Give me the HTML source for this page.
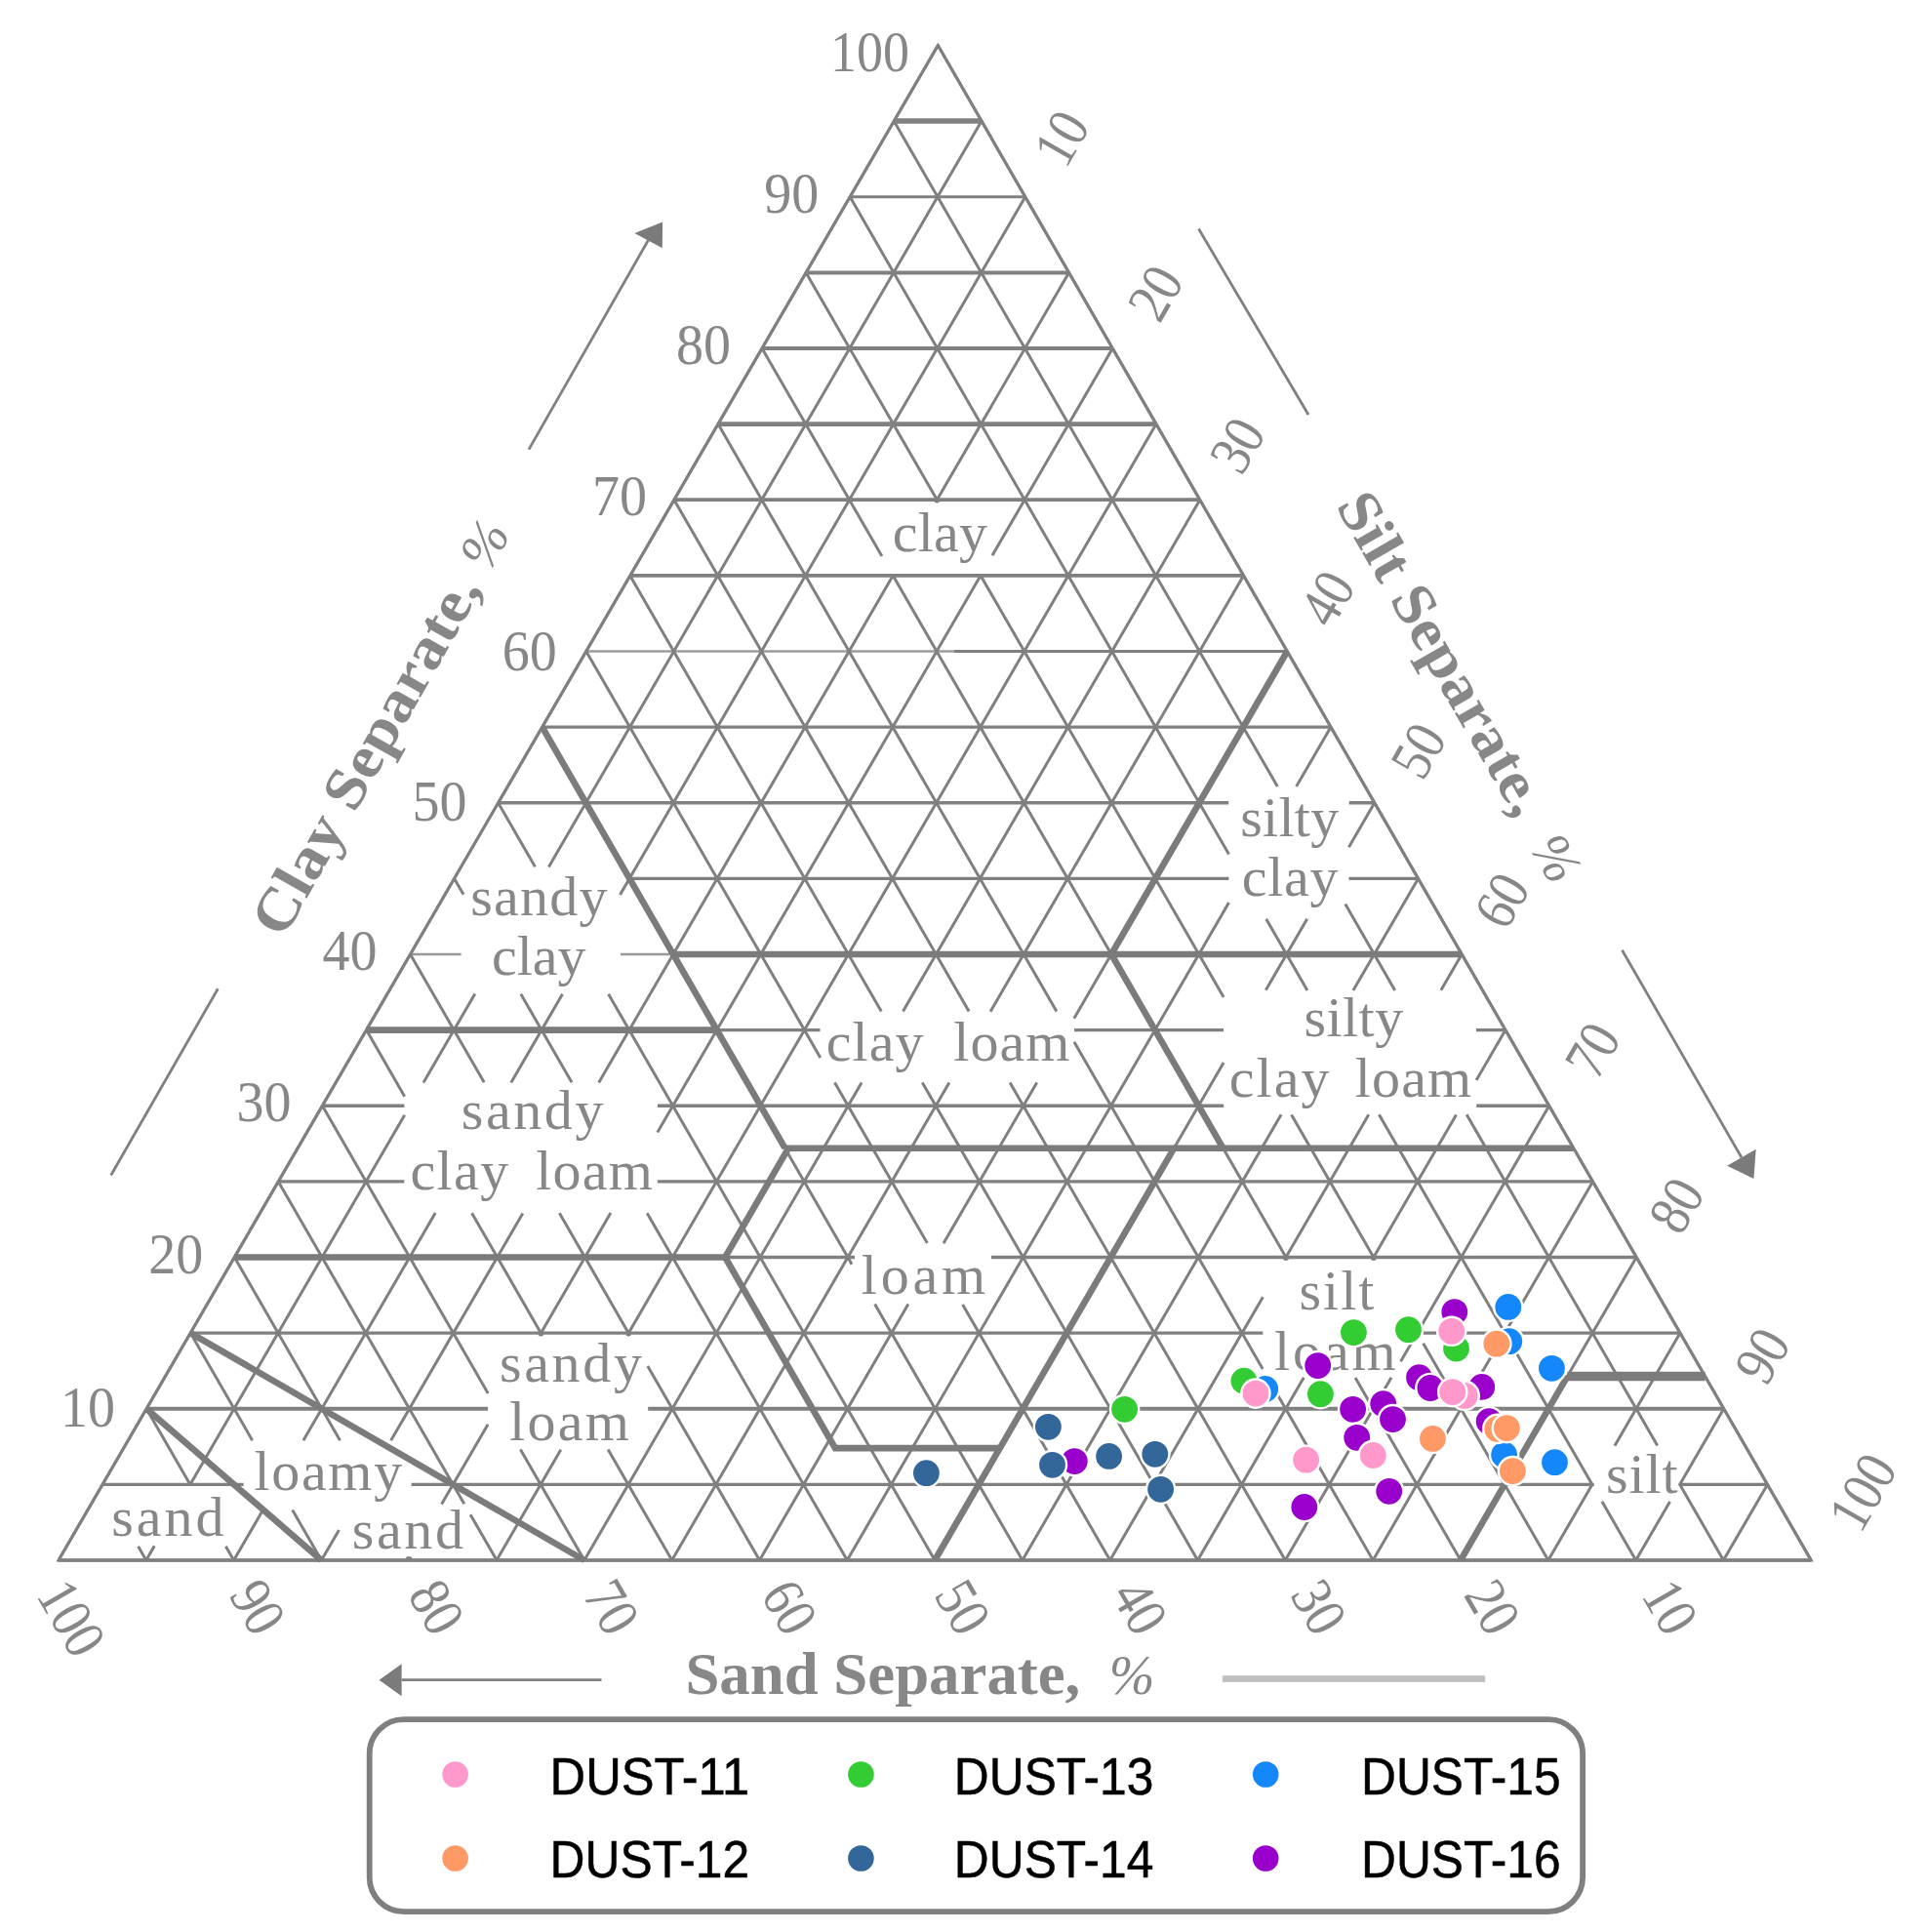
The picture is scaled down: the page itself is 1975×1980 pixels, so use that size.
<!DOCTYPE html>
<html><head><meta charset="utf-8"><title>Soil texture triangle</title>
<style>
html,body{margin:0;padding:0;background:#fff;}
body{width:1975px;height:1980px;overflow:hidden;font-family:"Liberation Sans",sans-serif;}
svg{display:block;}
</style></head><body>
<svg width="1975" height="1980" viewBox="0 0 1975 1980">
<rect width="1975" height="1980" fill="#fff"/>
<g>
<path d="M150.1 1443.8L500.1 1443.8" stroke="#808080" stroke-width="4.0" fill="none"/>
<path d="M664.2 1443.8L1766.7 1443.8" stroke="#808080" stroke-width="4.0" fill="none"/>
<path d="M420.5 978.0L472.6 978.0" stroke="#999999" stroke-width="2.3" fill="none"/>
<path d="M635.9 978.0L690.0 978.0" stroke="#999999" stroke-width="2.3" fill="none"/>
<path d="M690.0 978.0L1498.2 978.0" stroke="#808080" stroke-width="3.3" fill="none"/>
<path d="M600.8 667.5L978.0 667.5" stroke="#9c9c9c" stroke-width="2.3" fill="none"/>
<path d="M978.0 667.5L1319.3 667.5" stroke="#808080" stroke-width="2.8" fill="none"/>
<path d="M645.8 589.9L1274.5 589.9" stroke="#808080" stroke-width="3.7" fill="none"/>
<path d="M690.9 512.2L1229.8 512.2" stroke="#808080" stroke-width="3.7" fill="none"/>
<path d="M736.0 434.6L1185.0 434.6" stroke="#808080" stroke-width="4.6" fill="none"/>
<path d="M781.0 357.0L1140.3 357.0" stroke="#808080" stroke-width="4.0" fill="none"/>
<path d="M826.1 279.4L1095.5 279.4" stroke="#808080" stroke-width="4.0" fill="none"/>
<path d="M871.2 201.8L1050.8 201.8" stroke="#808080" stroke-width="3.0" fill="none"/>
<path d="M916.2 124.1L1006.0 124.1" stroke="#808080" stroke-width="5.5" fill="none"/>
<path d="M60.0 1599.0L1856.2 1599.0M105.1 1521.4L249.6 1521.4M421.6 1521.4L1632.4 1521.4M1721.4 1521.4L1811.5 1521.4M195.2 1366.1L1294.4 1366.1M1458.4 1366.1L1722.0 1366.1M240.3 1288.5L876.0 1288.5M1016.0 1288.5L1677.2 1288.5M285.3 1210.9L414.3 1210.9M673.9 1210.9L1632.5 1210.9M330.4 1133.2L414.4 1133.2M674.0 1133.2L1254.1 1133.2M1513.2 1133.2L1587.7 1133.2M375.5 1055.6L840.5 1055.6M1101.0 1055.6L1254.0 1055.6M1513.0 1055.6L1543.0 1055.6M645.2 900.4L1259.4 900.4M1382.5 900.4L1453.5 900.4M510.6 822.8L1259.2 822.8M1382.7 822.8L1408.8 822.8M555.7 745.1L1364.0 745.1" fill="none" stroke="#808080" stroke-width="3.4"/>
<path d="M961.3 46.5L1856.2 1599.0M961.3 46.5L60.0 1599.0M916.2 124.1L1309.3 806.1M1378.8 926.6L1429.7 1014.9M1503.2 1142.3L1698.7 1481.6M1721.2 1520.6L1766.4 1599.0M1006.0 124.1L562.4 888.4M486.8 1018.6L434.0 1109.4M414.7 1142.7L194.3 1522.4M158.3 1584.3L149.8 1599.0M871.2 201.8L1259.5 875.5M1297.7 941.8L1339.9 1015.0M1413.4 1142.3L1632.9 1523.2M1641.9 1538.8L1676.6 1599.0M1050.8 201.8L635.5 917.0M576.5 1018.7L523.8 1109.5M446.2 1243.1L310.9 1476.2M269.5 1547.5L239.6 1599.0M826.1 279.4L962.0 515.1M1004.4 588.7L1254.1 1021.9M1323.6 1142.4L1409.5 1291.4M1458.7 1376.8L1586.8 1599.0M1095.5 279.4L958.7 515.1M916.0 588.6L613.7 1109.4M535.8 1243.5L400.7 1476.2M347.5 1567.9L329.4 1599.0M781.0 357.0L903.9 570.1M914.6 588.8L1319.7 1291.4M1389.1 1411.9L1497.0 1599.0M1140.3 357.0L1017.0 569.3M1005.7 588.8L673.8 1160.5M625.9 1243.1L552.8 1368.9M500.1 1459.8L452.6 1541.5M421.2 1595.5L419.2 1599.0M736.0 434.6L1082.9 1036.5M1100.9 1067.7L1294.2 1403.1M1299.2 1411.8L1407.2 1599.0M1185.0 434.6L642.6 1368.9M574.8 1485.7L509.0 1599.0M690.9 512.2L993.1 1036.6M1035.1 1109.4L1317.3 1599.0M1229.8 512.2L925.5 1036.4M883.1 1109.5L598.9 1599.0M645.8 589.9L903.3 1036.6M945.3 1109.4L1227.5 1599.0M1274.5 589.9L1015.1 1036.7M972.9 1109.4L688.7 1599.0M600.8 667.5L840.8 1083.9M855.5 1109.4L950.4 1274.1M986.6 1336.9L1137.7 1599.0M1319.3 667.5L1100.8 1043.7M1062.7 1109.5L967.0 1274.2M930.9 1336.5L778.5 1599.0M555.7 745.1L873.1 1295.7M896.6 1336.5L1047.9 1599.0M1364.0 745.1L1328.6 806.1M1259.5 925.1L868.3 1599.0M510.6 822.8L548.4 888.2M623.6 1018.7L958.1 1599.0M1408.8 822.8L1382.4 868.2M1339.7 941.7L1297.3 1014.8M1254.1 1089.1L958.1 1599.0M465.6 900.4L475.1 916.8M533.8 1018.7L586.0 1109.3M663.2 1243.2L868.3 1599.0M1453.5 900.4L1386.9 1015.0M1313.1 1142.2L1047.9 1599.0M420.5 978.0L496.2 1109.3M573.4 1243.2L645.8 1368.9M663.8 1400.1L778.5 1599.0M1498.2 978.0L1476.9 1014.8M1402.8 1142.3L1316.2 1291.5M1294.4 1329.2L1137.7 1599.0M375.5 1055.6L414.7 1123.7M483.6 1243.2L556.0 1368.9M623.2 1485.5L688.7 1599.0M1543.0 1055.6L1513.1 1107.1M1492.5 1142.6L1406.1 1291.4M1336.3 1411.7L1227.5 1599.0M330.4 1133.2L500.2 1427.9M533.4 1485.5L598.9 1599.0M1587.7 1133.2L1435.6 1395.3M1426.0 1411.7L1317.3 1599.0M285.3 1210.9L475.8 1541.3M482.1 1552.2L509.1 1599.0M1632.5 1210.9L1407.2 1599.0M240.3 1288.5L348.5 1476.3M417.2 1595.5L419.2 1599.0M1677.2 1288.5L1497.0 1599.0M195.2 1366.1L258.7 1476.3M299.7 1547.4L329.4 1599.0M1722.0 1366.1L1654.9 1481.7M1632.8 1519.8L1586.8 1599.0M150.1 1443.8L195.4 1522.2M231.4 1584.7L239.6 1599.0M1766.7 1443.8L1721.0 1522.5M1711.5 1538.9L1676.6 1599.0M141.6 1584.7L149.8 1599.0M1811.5 1521.4L1766.4 1599.0" fill="none" stroke="#808080" stroke-width="3.0" stroke-linecap="butt"/>
<path d="M961.3 46.5L60.0 1599.0L1856.2 1599.0Z" fill="none" stroke="#808080" stroke-width="3.0" stroke-linejoin="miter"/>
<path d="M150.1 1443.8L329.4 1599.0M195.2 1366.1L598.9 1599.0M240.3 1288.5L743.2 1288.5L808.1 1176.7M743.2 1288.5L856.0 1484.1L1024.8 1484.1L958.1 1599.0M1024.8 1484.1L1203.3 1176.7M804.5 1176.7L1612.8 1176.7M555.7 745.1L804.5 1176.7M375.5 1055.6L734.7 1055.6M690.0 978.0L1498.2 978.0M1139.0 978.0L1253.5 1176.7M1319.3 667.5L1139.0 978.0M1497.0 1599.0L1606.5 1410.4" fill="none" stroke="#7b7b7b" stroke-width="6.6" stroke-linejoin="miter" stroke-linecap="butt"/>
<path d="M1606.5 1410.4L1747.5 1410.4" fill="none" stroke="#7b7b7b" stroke-width="9.5" stroke-linejoin="miter" stroke-linecap="butt"/>
<g font-family="Liberation Serif, serif" fill="#878787">
<text transform="translate(118.1 1461.8)" font-size="60" text-anchor="end" textLength="56.0" lengthAdjust="spacingAndGlyphs">10</text>
<text transform="translate(208.3 1304.5)" font-size="60" text-anchor="end" textLength="56.0" lengthAdjust="spacingAndGlyphs">20</text>
<text transform="translate(298.4 1149.2)" font-size="60" text-anchor="end" textLength="56.0" lengthAdjust="spacingAndGlyphs">30</text>
<text transform="translate(386.5 994.0)" font-size="60" text-anchor="end" textLength="56.0" lengthAdjust="spacingAndGlyphs">40</text>
<text transform="translate(478.6 840.8)" font-size="60" text-anchor="end" textLength="56.0" lengthAdjust="spacingAndGlyphs">50</text>
<text transform="translate(570.8 686.5)" font-size="60" text-anchor="end" textLength="56.0" lengthAdjust="spacingAndGlyphs">60</text>
<text transform="translate(662.9 528.2)" font-size="60" text-anchor="end" textLength="56.0" lengthAdjust="spacingAndGlyphs">70</text>
<text transform="translate(749.0 373.0)" font-size="60" text-anchor="end" textLength="56.0" lengthAdjust="spacingAndGlyphs">80</text>
<text transform="translate(839.2 217.8)" font-size="60" text-anchor="end" textLength="56.0" lengthAdjust="spacingAndGlyphs">90</text>
<text transform="translate(932.0 73.2)" font-size="60" text-anchor="end" textLength="81.0" lengthAdjust="spacingAndGlyphs">100</text>
<text transform="translate(1092.3 174.1) rotate(-60)" font-size="60" textLength="52.0" lengthAdjust="spacingAndGlyphs">10</text>
<text transform="translate(1188.6 332.7) rotate(-60)" font-size="60" textLength="52.0" lengthAdjust="spacingAndGlyphs">20</text>
<text transform="translate(1272.6 488.7) rotate(-60)" font-size="60" textLength="52.0" lengthAdjust="spacingAndGlyphs">30</text>
<text transform="translate(1364.6 645.7) rotate(-60)" font-size="60" textLength="52.0" lengthAdjust="spacingAndGlyphs">40</text>
<text transform="translate(1458.1 801.7) rotate(-60)" font-size="60" textLength="52.0" lengthAdjust="spacingAndGlyphs">50</text>
<text transform="translate(1543.6 955.2) rotate(-60)" font-size="60" textLength="52.0" lengthAdjust="spacingAndGlyphs">60</text>
<text transform="translate(1636.6 1108.7) rotate(-60)" font-size="60" textLength="52.0" lengthAdjust="spacingAndGlyphs">70</text>
<text transform="translate(1722.6 1267.7) rotate(-60)" font-size="60" textLength="52.0" lengthAdjust="spacingAndGlyphs">80</text>
<text transform="translate(1810.6 1421.7) rotate(-60)" font-size="60" textLength="52.0" lengthAdjust="spacingAndGlyphs">90</text>
<text transform="translate(1906.7 1572.9) rotate(-60)" font-size="60" textLength="78.0" lengthAdjust="spacingAndGlyphs">100</text>
<text transform="translate(36.6 1634.4) rotate(60)" font-size="60" textLength="78.0" lengthAdjust="spacingAndGlyphs">100</text>
<text transform="translate(233.9 1634.6) rotate(60)" font-size="60" textLength="52.0" lengthAdjust="spacingAndGlyphs">90</text>
<text transform="translate(417.2 1634.6) rotate(60)" font-size="60" textLength="52.0" lengthAdjust="spacingAndGlyphs">80</text>
<text transform="translate(596.4 1634.6) rotate(60)" font-size="60" textLength="52.0" lengthAdjust="spacingAndGlyphs">70</text>
<text transform="translate(779.0 1634.6) rotate(60)" font-size="60" textLength="52.0" lengthAdjust="spacingAndGlyphs">60</text>
<text transform="translate(956.4 1634.6) rotate(60)" font-size="60" textLength="52.0" lengthAdjust="spacingAndGlyphs">50</text>
<text transform="translate(1137.9 1634.6) rotate(60)" font-size="60" textLength="52.0" lengthAdjust="spacingAndGlyphs">40</text>
<text transform="translate(1321.4 1634.6) rotate(60)" font-size="60" textLength="52.0" lengthAdjust="spacingAndGlyphs">30</text>
<text transform="translate(1499.4 1634.6) rotate(60)" font-size="60" textLength="52.0" lengthAdjust="spacingAndGlyphs">20</text>
<text transform="translate(1681.4 1634.6) rotate(60)" font-size="60" textLength="52.0" lengthAdjust="spacingAndGlyphs">10</text>
<text transform="translate(702.4 1735.5)" font-size="61" font-weight="bold" textLength="404.9" lengthAdjust="spacingAndGlyphs">Sand Separate,</text>
<text transform="translate(1136.7 1735.5)" font-size="56" font-style="italic">%</text>
<text transform="translate(290.3 963.2) rotate(-60.5)" font-size="61" font-weight="bold" textLength="413.6" lengthAdjust="spacingAndGlyphs">Clay Separate,</text>
<text transform="translate(501.3 587.0) rotate(-60.5)" font-size="56" font-style="italic" textLength="46.6" lengthAdjust="spacingAndGlyphs">%</text>
<text transform="translate(1368.5 518.5) rotate(60)" font-size="61" font-weight="bold" textLength="371.5" lengthAdjust="spacingAndGlyphs">Silt Separate,</text>
<text transform="translate(1567.6 868.8) rotate(60)" font-size="56" font-style="italic" textLength="46.6" lengthAdjust="spacingAndGlyphs">%</text>
<text transform="translate(914.7 565.3)" font-size="58" textLength="97.2" lengthAdjust="spacing">clay</text>
<text transform="translate(1271.2 857.2)" font-size="58" textLength="101.0" lengthAdjust="spacing">silty</text>
<text transform="translate(1272.7 918.2)" font-size="58" textLength="98.8" lengthAdjust="spacing">clay</text>
<text transform="translate(482.2 938.0)" font-size="58" textLength="140.3" lengthAdjust="spacing">sandy</text>
<text transform="translate(504.0 999.0)" font-size="58" textLength="96.5" lengthAdjust="spacing">clay</text>
<text transform="translate(846.8 1086.5)" font-size="58" textLength="99.6" lengthAdjust="spacing">clay</text>
<text transform="translate(977.3 1086.5)" font-size="58" textLength="119.1" lengthAdjust="spacing">loam</text>
<text transform="translate(1336.4 1062.2)" font-size="58" textLength="101.8" lengthAdjust="spacing">silty</text>
<text transform="translate(1259.8 1123.8)" font-size="58" textLength="102.7" lengthAdjust="spacing">clay</text>
<text transform="translate(1388.7 1123.8)" font-size="58" textLength="119.5" lengthAdjust="spacing">loam</text>
<text transform="translate(472.7 1156.6)" font-size="58" textLength="145.8" lengthAdjust="spacing">sandy</text>
<text transform="translate(420.4 1219.2)" font-size="58" textLength="100.9" lengthAdjust="spacing">clay</text>
<text transform="translate(549.3 1219.2)" font-size="58" textLength="119.6" lengthAdjust="spacing">loam</text>
<text transform="translate(882.7 1325.7)" font-size="58" textLength="127.5" lengthAdjust="spacing">loam</text>
<text transform="translate(1331.5 1342.2)" font-size="58" textLength="76.9" lengthAdjust="spacing">silt</text>
<text transform="translate(1305.9 1403.6)" font-size="58" textLength="124.8" lengthAdjust="spacing">loam</text>
<text transform="translate(511.9 1415.6)" font-size="58" textLength="146.1" lengthAdjust="spacing">sandy</text>
<text transform="translate(522.1 1475.9)" font-size="58" textLength="122.8" lengthAdjust="spacing">loam</text>
<text transform="translate(260.4 1526.8)" font-size="58" textLength="151.8" lengthAdjust="spacing">loamy</text>
<text transform="translate(114.2 1573.6)" font-size="58" textLength="115.3" lengthAdjust="spacing">sand</text>
<text transform="translate(360.8 1587.3)" font-size="58" textLength="114.2" lengthAdjust="spacing">sand</text>
<text transform="translate(1646.1 1529.8)" font-size="58" textLength="73.5" lengthAdjust="spacing">silt</text>
</g>
<path d="M542.0 460.6L664.5 246.0" stroke="#808080" stroke-width="2.8" fill="none"/>
<polygon points="650.4,238.9 679.1,227.4 678.8,254.2" fill="#7b7b7b"/>
<path d="M113.7 1204.5L223.4 1013.2" stroke="#808080" stroke-width="2.8" fill="none"/>
<path d="M1228.5 234.5L1341.0 425.0" stroke="#808080" stroke-width="2.8" fill="none"/>
<path d="M1662.5 973.7L1784.9 1186.2" stroke="#808080" stroke-width="2.8" fill="none"/>
<polygon points="1797.4,1207.9 1770.2,1194.7 1799.7,1177.8" fill="#7b7b7b"/>
<path d="M616.5 1721.7L411.6 1721.7" stroke="#808080" stroke-width="2.8" fill="none"/>
<polygon points="388.6,1721.7 411.6,1705.2 411.6,1738.2" fill="#7b7b7b"/>
</g>
<rect x="1252.9" y="1717.2" width="269.3" height="6.7" fill="#bfbfbf"/>
<g fill="#9900CC" stroke="#fff" stroke-width="2.4">
<circle cx="1490.8" cy="1344.6" r="14.6"/>
<circle cx="1350.7" cy="1399.6" r="14.6"/>
<circle cx="1454.5" cy="1411.7" r="14.6"/>
<circle cx="1465.9" cy="1422.5" r="14.6"/>
<circle cx="1518.8" cy="1421.4" r="14.6"/>
<circle cx="1386.6" cy="1444.3" r="14.6"/>
<circle cx="1417.7" cy="1438.7" r="14.6"/>
<circle cx="1427.5" cy="1454.6" r="14.6"/>
<circle cx="1390.7" cy="1473.3" r="14.6"/>
<circle cx="1526.1" cy="1456.7" r="14.6"/>
<circle cx="1423.7" cy="1528.3" r="14.6"/>
<circle cx="1336.8" cy="1544.5" r="14.6"/>
<circle cx="1101.3" cy="1497.6" r="14.6"/>
</g>
<g fill="#1488FA" stroke="#fff" stroke-width="2.4">
<circle cx="1296.7" cy="1423.5" r="14.6"/>
<circle cx="1545.8" cy="1339.4" r="14.6"/>
<circle cx="1546.8" cy="1374.7" r="14.6"/>
<circle cx="1590.4" cy="1402.3" r="14.6"/>
<circle cx="1541.6" cy="1491.0" r="14.6"/>
<circle cx="1593.5" cy="1498.7" r="14.6"/>
</g>
<g fill="#336699" stroke="#fff" stroke-width="2.4">
<circle cx="949.4" cy="1509.7" r="14.6"/>
<circle cx="1074.4" cy="1462.3" r="14.6"/>
<circle cx="1078.5" cy="1501.3" r="14.6"/>
<circle cx="1136.6" cy="1492.4" r="14.6"/>
<circle cx="1183.8" cy="1490.3" r="14.6"/>
<circle cx="1189.6" cy="1526.3" r="14.6"/>
</g>
<g fill="#33CC33" stroke="#fff" stroke-width="2.4">
<circle cx="1274.9" cy="1415.2" r="14.6"/>
<circle cx="1387.4" cy="1365.6" r="14.6"/>
<circle cx="1443.5" cy="1362.7" r="14.6"/>
<circle cx="1492.5" cy="1382.0" r="14.6"/>
<circle cx="1353.4" cy="1428.7" r="14.6"/>
<circle cx="1152.6" cy="1444.3" r="14.6"/>
</g>
<g fill="#FF9966" stroke="#fff" stroke-width="2.4">
<circle cx="1533.8" cy="1377.2" r="14.6"/>
<circle cx="1468.4" cy="1474.4" r="14.6"/>
<circle cx="1534.8" cy="1464.4" r="14.6"/>
<circle cx="1544.3" cy="1463.6" r="14.6"/>
<circle cx="1550.4" cy="1507.6" r="14.6"/>
</g>
<g fill="#FF99CC" stroke="#fff" stroke-width="2.4">
<circle cx="1501.2" cy="1430.4" r="14.6"/>
<circle cx="1286.9" cy="1428.1" r="14.6"/>
<circle cx="1487.7" cy="1364.3" r="14.6"/>
<circle cx="1488.7" cy="1426.6" r="14.6"/>
<circle cx="1407.3" cy="1491.4" r="14.6"/>
<circle cx="1338.6" cy="1496.2" r="14.6"/>
</g>
<rect x="378.7" y="1762.1" width="1243.4" height="197.0" rx="35" ry="35" fill="#fff" stroke="#7f7f7f" stroke-width="5.8"/>
<g font-family="Liberation Sans, sans-serif" font-size="54" fill="#000" stroke="#000" stroke-width="0.5">
<circle cx="466.6" cy="1818.5" r="13.3" fill="#FF99CC" stroke="none"/>
<text x="563.6" y="1838.7" textLength="204.6" lengthAdjust="spacingAndGlyphs">DUST-11</text>
<circle cx="466.6" cy="1904.5" r="13.3" fill="#FF9966" stroke="none"/>
<text x="563.6" y="1924.4" textLength="204.6" lengthAdjust="spacingAndGlyphs">DUST-12</text>
<circle cx="882.4" cy="1818.5" r="13.3" fill="#33CC33" stroke="none"/>
<text x="977.8" y="1838.7" textLength="204.6" lengthAdjust="spacingAndGlyphs">DUST-13</text>
<circle cx="882.4" cy="1904.5" r="13.3" fill="#336699" stroke="none"/>
<text x="977.8" y="1924.4" textLength="204.6" lengthAdjust="spacingAndGlyphs">DUST-14</text>
<circle cx="1297.2" cy="1818.5" r="13.3" fill="#1488FA" stroke="none"/>
<text x="1395.0" y="1838.7" textLength="204.6" lengthAdjust="spacingAndGlyphs">DUST-15</text>
<circle cx="1297.2" cy="1904.5" r="13.3" fill="#9900CC" stroke="none"/>
<text x="1395.0" y="1924.4" textLength="204.6" lengthAdjust="spacingAndGlyphs">DUST-16</text>
</g>
</svg>
</body></html>
